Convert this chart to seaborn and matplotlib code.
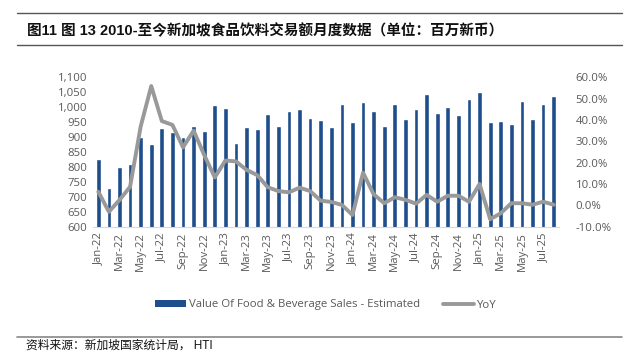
import numpy as np
import pandas as pd
import matplotlib
matplotlib.use("Agg")
import matplotlib.pyplot as plt
import seaborn as sns
from matplotlib.lines import Line2D
from matplotlib.patches import Patch
from matplotlib.ticker import FuncFormatter

# 月份
months = ["Jan-22", "Feb-22", "Mar-22", "Apr-22", "May-22", "Jun-22", "Jul-22", "Aug-22",
          "Sep-22", "Oct-22", "Nov-22", "Dec-22", "Jan-23", "Feb-23", "Mar-23", "Apr-23",
          "May-23", "Jun-23", "Jul-23", "Aug-23", "Sep-23", "Oct-23", "Nov-23", "Dec-23",
          "Jan-24", "Feb-24", "Mar-24", "Apr-24", "May-24", "Jun-24", "Jul-24", "Aug-24",
          "Sep-24", "Oct-24", "Nov-24", "Dec-24", "Jan-25", "Feb-25", "Mar-25", "Apr-25",
          "May-25", "Jun-25", "Jul-25", "Aug-25"]

# 食品饮料交易额（百万新币）
sales = [826, 730, 800, 810, 900, 877, 930, 917, 900, 937, 920, 1007,
         998, 880, 933, 927, 976, 937, 987, 994, 963, 958, 933, 1012,
         950, 1017, 987, 936, 1012, 960, 994, 1043, 980, 1002, 975, 1026,
         1050, 951, 955, 944, 1020, 960, 1012, 1038]

# 同比 YoY (%)
yoy = [6.4, -3.0, 2.5, 8.7, 36.9, 55.9, 39.5, 37.7, 27.2, 35.0, 23.6, 13.1,
       21.0, 20.6, 16.6, 14.2, 8.5, 6.7, 6.1, 8.3, 6.7, 2.2, 1.6, 0.2,
       -4.5, 15.3, 5.2, 1.0, 3.8, 2.6, 0.8, 4.9, 1.7, 4.5, 4.5, 1.7,
       10.0, -6.5, -3.7, 1.0, 1.0, 0.3, 1.7, 0.3]

title = "图11 图 13 2010-至今新加坡食品饮料交易额月度数据（单位：百万新币）"
source = "资料来源：新加坡国家统计局， HTI"

df = pd.DataFrame({"month": months, "sales": sales, "yoy": np.array(yoy) / 100})
df["pos"] = np.arange(len(df))

sns.set_style("white")
plt.rcParams["font.family"] = ["Open Sans", "Noto Sans CJK SC", "DejaVu Sans"]

bar_color = "#1F4E8C"
line_color = "#999999"
tick_color = "#595959"
fs = 8.2

W, H = 624, 362
fig = plt.figure(figsize=(W / 100, H / 100), dpi=100)
ax = fig.add_axes([93 / W, 1 - 226.7 / H, (559 - 93) / W, (226.7 - 77.3) / H])

sns.barplot(data=df, x="month", y="sales", color=bar_color, width=0.45,
            saturation=1, ax=ax)
ax.set_ylim(600, 1100)
ax.set_yticks(range(600, 1101, 50))
ax.yaxis.set_major_formatter(FuncFormatter(lambda v, p: f"{int(v):,}"))
ax.set_xlim(-0.5, len(df) - 0.5)
ax.set_xticks(range(0, len(df), 2))
ax.set_xticklabels(months[::2], rotation=90)
ax.set_xlabel("")
ax.set_ylabel("")
ax.tick_params(axis="both", length=0, labelsize=fs, colors=tick_color)
ax.tick_params(axis="y", pad=4)
ax.tick_params(axis="x", pad=4)
for s in ["top", "left", "right"]:
    ax.spines[s].set_visible(False)
ax.spines["bottom"].set_color("#d9d9d9")
ax.spines["bottom"].set_linewidth(0.8)

ax2 = ax.twinx()
sns.lineplot(data=df, x="pos", y="yoy", color=line_color, linewidth=2.8, ax=ax2)
ax2.set_ylim(-0.1, 0.6)
ax2.set_yticks(np.arange(-0.1, 0.61, 0.1))
ax2.yaxis.set_major_formatter(FuncFormatter(lambda v, p: f"{v * 100:.1f}%"))
ax2.set_ylabel("")
ax2.tick_params(axis="y", length=0, labelsize=fs, colors=tick_color, pad=12)
for s in ["top", "left", "right", "bottom"]:
    ax2.spines[s].set_visible(False)

# 图例
handles = [Patch(facecolor=bar_color, edgecolor="none"),
           Line2D([0], [0], color=line_color, linewidth=2.8)]
fig.legend(handles, ["Value Of Food & Beverage Sales - Estimated", "YoY"],
           loc="center", bbox_to_anchor=(326 / W, 1 - 305 / H), ncol=2,
           frameon=False, fontsize=fs, labelcolor=tick_color,
           handlelength=2.7, handleheight=0.5, handletextpad=0.3, columnspacing=2.0)

# 标题、分割线和来源
fig.add_artist(Line2D([17 / W, 622 / W], [1 - 12.7 / H] * 2, color="#555555", linewidth=1))
fig.add_artist(Line2D([17 / W, 622 / W], [1 - 45 / H] * 2, color="#555555", linewidth=1))
fig.add_artist(Line2D([17 / W, 622 / W], [1 - 337 / H] * 2, color="#888888", linewidth=1.2))
fig.text(27 / W, 1 - 30.5 / H, title, fontsize=10.5, fontweight="bold", va="center", ha="left",
         family=["Liberation Sans", "Noto Sans CJK SC"], color="#111111")
fig.text(26 / W, 1 - 346 / H, source, fontsize=8.5, va="center", ha="left",
         family=["Liberation Sans", "Noto Sans CJK SC"], color="#111111")

fig.savefig("out.png", dpi=100)
